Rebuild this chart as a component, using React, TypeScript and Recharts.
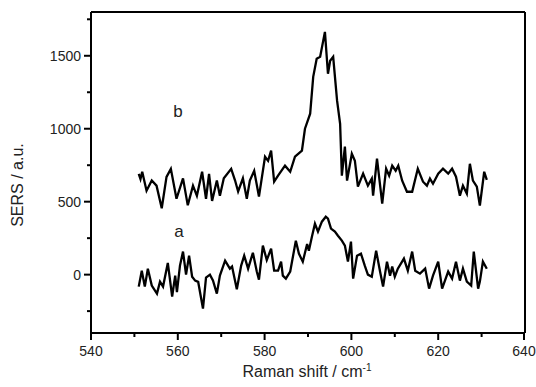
import React from "react";
import {
  LineChart,
  Line,
  XAxis,
  YAxis,
  ReferenceLine,
} from "recharts";

// spectrum b (upper trace)
const bShift = [
  551.0, 551.4, 551.8, 552.8, 554.0, 555.1, 556.3, 557.4, 558.4, 559.7,
  561.2, 562.3, 563.5, 564.4, 565.6, 566.5, 567.2, 567.9, 569.0, 569.7,
  570.6, 572.3, 573.2, 573.9, 575.0, 575.9, 576.6, 577.6, 578.7, 580.1,
  580.8, 581.5, 582.2, 583.1, 584.7, 585.9, 587.0, 588.6, 589.3, 590.5,
  591.2, 592.0, 592.8, 593.9, 594.6, 595.1, 595.8, 596.7, 597.4, 597.8,
  598.5, 599.0, 600.1, 600.8, 601.5, 602.7, 603.8, 604.7, 605.0, 605.9,
  607.1, 608.0, 608.7, 609.4, 610.2, 610.8, 611.7, 612.8, 614.0, 615.3,
  616.5, 617.4, 618.1, 618.8, 620.0, 621.1, 622.3, 623.2, 624.1, 625.0,
  625.7, 626.6, 627.3, 628.0, 628.9, 629.6, 630.6, 631.2,
];
const bSers = [
  690, 655, 705, 575, 645, 610, 455, 670, 725, 520,
  660, 475, 610, 540, 705, 520, 690, 505, 645, 540,
  660, 725, 645, 570, 660, 520, 645, 712, 535, 808,
  780, 850, 637, 678, 747, 705, 808, 850, 1000, 1103,
  1356, 1480, 1493, 1664, 1377, 1466, 1493, 1192, 1034, 678,
  877, 644, 829, 781, 603, 692, 610, 658, 541, 795,
  486, 726, 678, 747, 712, 747, 644, 568, 568, 726,
  637, 610, 658, 623, 692, 726, 692, 726, 671, 541,
  610, 555, 760, 644, 603, 473, 705, 650,
];

// spectrum a (lower trace)
const aShift = [
  551.0, 551.7, 552.4, 553.1, 554.0, 555.2, 555.9, 556.6, 557.7, 558.7,
  559.4, 559.8, 560.5, 561.2, 561.9, 562.6, 563.3, 564.0, 564.7, 565.8,
  566.5, 567.4, 568.1, 569.0, 569.7, 570.9, 572.0, 572.5, 573.6, 574.6,
  575.3, 576.2, 577.3, 578.2, 578.7, 579.6, 580.5, 581.5, 582.2, 583.1,
  583.8, 584.2, 584.9, 585.9, 587.2, 587.9, 588.8, 589.8, 590.2, 590.9,
  591.6, 592.3, 593.2, 594.1, 594.6, 595.3, 596.2, 596.9, 597.8, 598.5,
  599.2, 599.9, 600.4, 601.3, 602.2, 603.1, 603.8, 604.7, 605.7, 606.6,
  607.3, 608.2, 608.9, 609.4, 610.0, 610.7, 612.1, 613.0, 614.0, 614.7,
  615.8, 617.0, 617.9, 618.8, 620.0, 620.9, 622.3, 623.2, 624.1, 625.0,
  625.7, 626.6, 627.6, 628.2, 629.2, 629.6, 630.3, 631.2,
];
const aSers = [
  -82, 27, -82, 41, -75, -130, -48, -82, 80, -150,
  -7, -120, 62, 158, 0, 130, -14, -41, -50, -233,
  -20, 0, -40, -130, -7, 96, 41, 55, -100, 62,
  130, 41, 150, 21, -35, 199, 100, 178, 27, 27,
  89, -7, -27, 21, 233, 144, 89, 210, 164, 260,
  349, 295, 363, 397, 384, 315, 295, 267, 233, 199,
  89, 226, -27, 130, 144, 60, 0, -14, 164, 21,
  -82, 89, -7, 55, -14, 41, 110, 27, 158, 27,
  7, 41, -96, -7, 89, -96, 21, -27, 89, -41,
  41, -48, -75, 158, -96, -48, 89, 40,
];

const xTicks = [540, 550, 560, 570, 580, 590, 600, 610, 620, 630, 640];
const yTicks = [-250, 0, 250, 500, 750, 1000, 1250, 1500, 1750];

const bData = bShift.map((x, i) => ({ x, v: bSers[i] }));
const aData = aShift.map((x, i) => ({ x, v: aSers[i] }));

const FONT = "'Liberation Sans', Arial, sans-serif";
const TXT = "#222";

function YTick({ x, y, payload }: any) {
  const major = payload.value % 500 === 0;
  return (
    <g>
      <line x1={x} x2={x - (major ? 7 : 4)} y1={y} y2={y} stroke="#000" strokeWidth={2} />
      {major && (
        <text x={x - 10} y={y} dy={5} textAnchor="end" fontSize={14} fontFamily={FONT} fill={TXT}>
          {payload.value}
        </text>
      )}
    </g>
  );
}

function XTick({ x, y, payload }: any) {
  const major = payload.value % 20 === 0;
  return (
    <g>
      <line x1={x} x2={x} y1={y} y2={y + (major ? 7 : 4)} stroke="#000" strokeWidth={2} />
      {major && (
        <text x={x} y={y + 23} textAnchor="middle" fontSize={14} fontFamily={FONT} fill={TXT}>
          {payload.value}
        </text>
      )}
    </g>
  );
}

export default function App() {
  return (
    <div style={{ position: "absolute", left: 0, top: 0, background: "#fff" }}>
      <LineChart
        width={536}
        height={387}
        margin={{ top: 12, right: 11, bottom: 0, left: 0 }}
      >
        <XAxis
          dataKey="x"
          type="number"
          domain={[540, 640]}
          ticks={xTicks}
          tick={<XTick />}
          tickSize={0}
          tickMargin={0}
          height={54}
          axisLine={{ stroke: "#000", strokeWidth: 2 }}
          tickLine={false}
          allowDataOverflow
          label={{
            content: () => (
              <text x={307} y={377} textAnchor="middle" fontSize={16} fontFamily={FONT} fill={TXT}>
                Raman shift / cm
                <tspan dy={-6} fontSize={10}>-1</tspan>
              </text>
            ),
          }}
        />
        <YAxis
          type="number"
          domain={[-400, 1800]}
          ticks={yTicks}
          tick={<YTick />}
          tickSize={0}
          tickMargin={0}
          width={91}
          axisLine={{ stroke: "#000", strokeWidth: 2 }}
          tickLine={false}
          allowDataOverflow
          label={{
            content: () => (
              <text
                x={23}
                y={185}
                textAnchor="middle"
                fontSize={16}
                fontFamily={FONT}
                fill={TXT}
                transform="rotate(-90 23 185)"
              >
                SERS / a.u.
              </text>
            ),
          }}
        />
        <ReferenceLine y={1800} stroke="#000" strokeWidth={2} />
        <ReferenceLine x={640} stroke="#000" strokeWidth={2} />
        <Line
          data={bData}
          dataKey="v"
          stroke="#000"
          strokeWidth={2.3}
          dot={false}
          type="linear"
          isAnimationActive={false}
        />
        <Line
          data={aData}
          dataKey="v"
          stroke="#000"
          strokeWidth={2.3}
          dot={false}
          type="linear"
          isAnimationActive={false}
        />
        <ReferenceLine
          x={557}
          stroke="none"
          label={{
            content: () => (
              <g>
                <text x={178} y={117} textAnchor="middle" fontSize={17} fontFamily={FONT} fill={TXT}>b</text>
                <text x={179} y={237} textAnchor="middle" fontSize={17} fontFamily={FONT} fill={TXT}>a</text>
              </g>
            ),
          }}
        />
      </LineChart>
    </div>
  );
}
